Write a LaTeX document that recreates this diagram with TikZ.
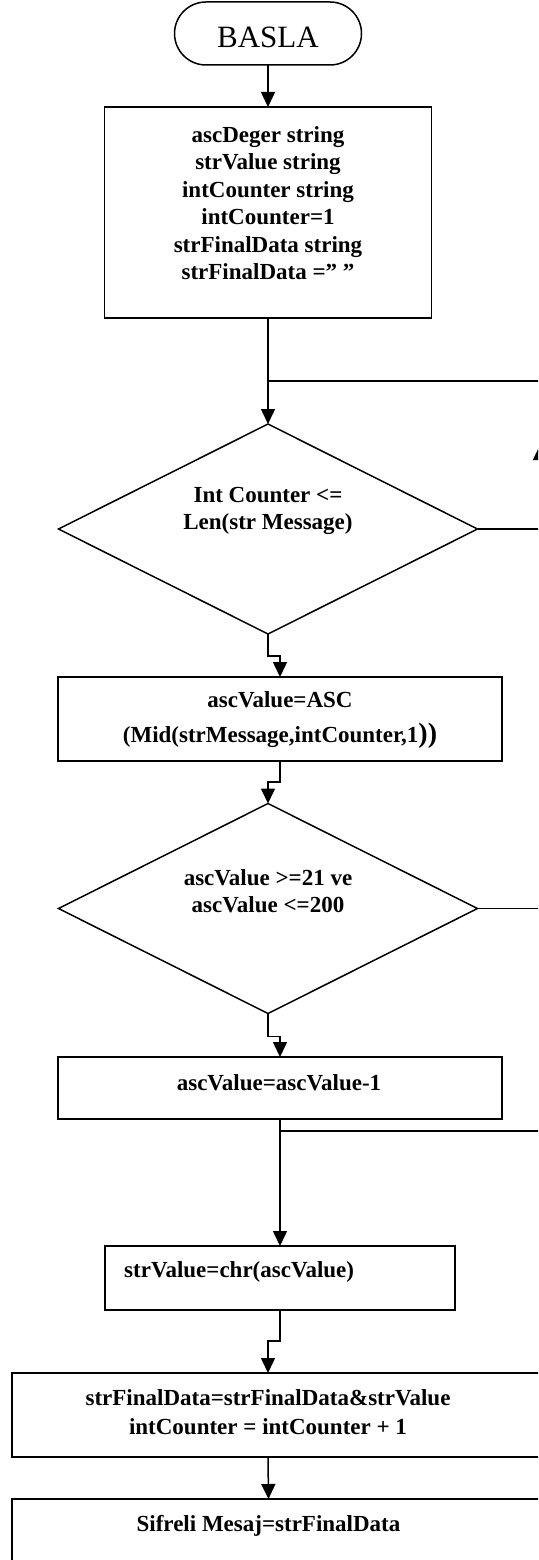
\documentclass[tikz,border=0pt]{standalone}
\usepackage{fontspec}
\setmainfont{Liberation Serif}
\usetikzlibrary{arrows.meta,shapes.geometric}
\begin{document}
\begin{tikzpicture}[x=1pt,y=-1pt,
  shapebox/.style={draw, line width=1.5pt, inner sep=0pt, outer sep=0pt},
  decision/.style={draw, diamond, line width=1.5pt, inner sep=0pt, outer sep=0pt,
                   minimum width=419pt, minimum height=210pt},
  lbl/.style={font=\fontsize{23}{27.5}\selectfont\bfseries, align=center, inner sep=0pt},
  flow/.style={line width=1.5pt},
  arr/.style={flow, -{Triangle[width=14pt,length=15pt]}}]
\useasboundingbox (0,0) rectangle (538,1560);
\clip (0,0) rectangle (538,1560);

% start terminator
\node[shapebox, rounded corners=31.5pt, minimum width=187pt, minimum height=63pt] (start) at (268,33.5) {};
\node[font=\fontsize{31}{31}\selectfont, inner sep=0pt] (startT) at (268,37.5) {BASLA};

% declarations
\node[shapebox, minimum width=327pt, minimum height=211pt] (init) at (268,212.5) {};
\node[lbl] (initT) at (268,203) {ascDeger string\\strValue string\\intCounter string\\intCounter=1\\strFinalData string\\strFinalData =” ”};

% loop condition
\coordinate (j1) at (268,381);
\coordinate (j1r) at (545,381);
\node[decision] (d1) at (268,529) {};
\node[lbl] (d1T) at (268,511) {Int Counter <=\\Len(str Message)};
\coordinate (d1r) at (545,529);

% read character code
\node[shapebox, minimum width=444pt, minimum height=84pt] (calc) at (280,719) {};
\node[lbl] (calcT) at (280,720) {ascValue=ASC\\[7pt](Mid(strMessage,intCounter,1{\fontsize{28}{28}\selectfont))}};

% range check
\node[decision] (d2) at (268,908.5) {};
\node[lbl] (d2T) at (268,891) {ascValue >=21 ve\\ascValue <=200};
\coordinate (d2r) at (545,908.5);

% shift code
\node[shapebox, minimum width=444pt, minimum height=62pt] (dec) at (280,1088) {};
\node[lbl] (decT) at (279,1083) {ascValue=ascValue-1};
\coordinate (j2) at (280,1131);
\coordinate (j2r) at (545,1131);

% back to character
\node[shapebox, minimum width=350pt, minimum height=64pt] (chr) at (280,1278) {};
\node[lbl, anchor=west] (chrT) at (124,1272) {strValue=chr(ascValue)};

% accumulate
\node[shapebox, minimum width=560pt, minimum height=84pt] (acc) at (292,1415) {};
\node[lbl, font=\fontsize{23}{29}\selectfont\bfseries] (accT) at (268,1412.5) {strFinalData=strFinalData\&strValue\\intCounter = intCounter + 1};

% result
\node[shapebox, minimum width=560pt, minimum height=120pt] (out) at (292,1559) {};
\node[lbl] (outT) at (268.5,1526) {Sifreli Mesaj=strFinalData};

% return path on the right
\coordinate (retLow) at (540,1131);
\coordinate (retTip) at (540,445);
\coordinate (retTop) at (540,381);

% connectors
\draw[arr] (start.south) -- (init.north);
\draw[arr] (init.south) -- (d1.north);
\draw[flow] (j1) -- (j1r);
\draw[flow] (d1.east) -- (d1r);
\draw[arr] (d1.south) -- ++(0,22) -| (calc.north);
\draw[arr] (calc.south) -- ++(0,21) -| (d2.north);
\draw[flow] (d2.east) -- (d2r);
\draw[arr] (d2.south) -- ++(0,23) -| (dec.north);
\draw[arr] (dec.south) -- (chr.north);
\draw[flow] (j2) -- (j2r);
\draw[arr] (chr.south) -- ++(0,31) -| (accT |- acc.north);
\draw[arr] (accT |- acc.south) -- (outT |- out.north);
\draw[arr] (retLow) -- (retTip);
\draw[flow] (retTip) -- (retTop);
\end{tikzpicture}
\end{document}
